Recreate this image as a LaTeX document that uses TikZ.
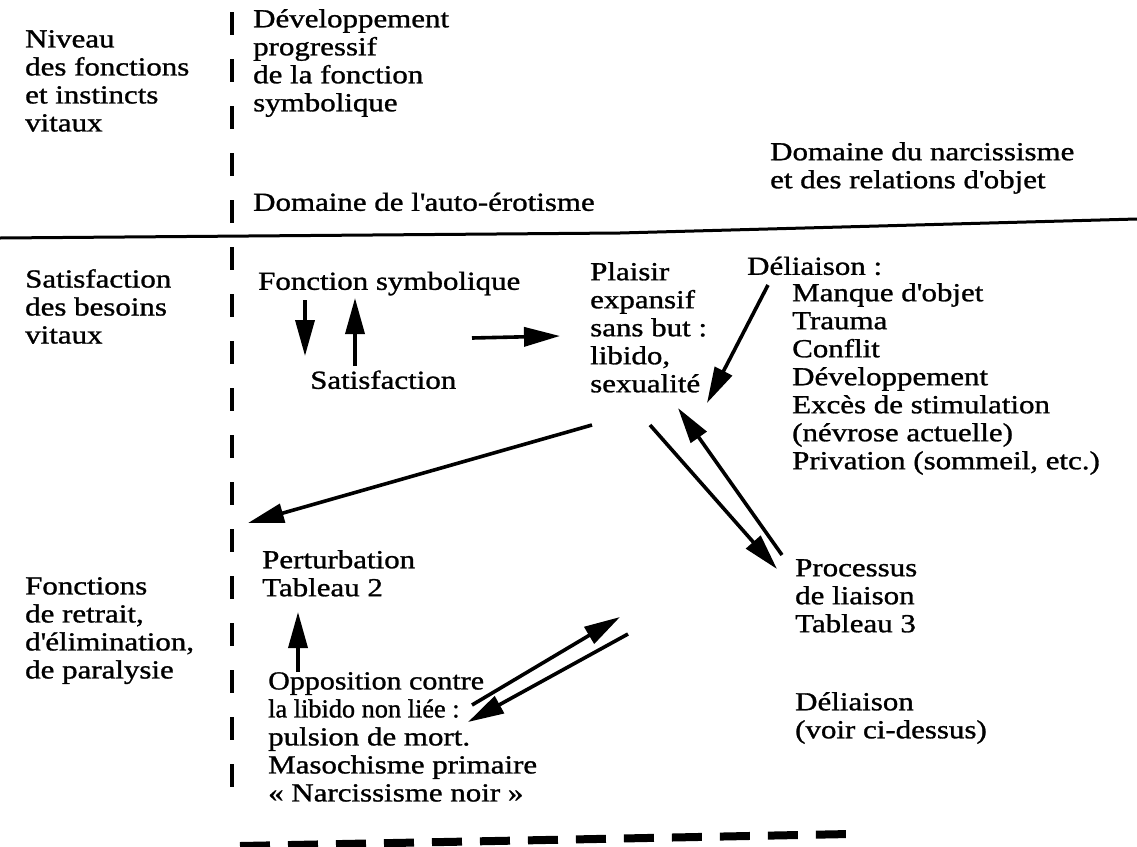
\documentclass[tikz,border=0pt]{standalone}
\usepackage{graphicx}
\usepackage{fontspec}
\setmainfont{Liberation Serif}[FakeStretch=1.19,FakeBold=1.1]
\usetikzlibrary{arrows.meta}
\newcommand{\diagfont}{\fontsize{26}{28}\selectfont}
\newcommand{\ap}{\textquotesingle}
\begin{document}
\begin{tikzpicture}[x=1pt,y=-1pt,
  txt/.style={font=\diagfont, inner sep=0pt, align=left, anchor=north west, execute at begin node=\strut},
  arr/.style={line width=3.6pt, -{Triangle[length=36pt,width=19pt]}},
  vdash/.style={line width=3.5pt, dash pattern=on 23pt off 24pt},
  bdash/.style={line width=8pt, dash pattern=on 30pt off 18pt},
  rule/.style={line width=3pt}]
\useasboundingbox[fill=white] (0,0) rectangle (1137,846);

% separators
\draw[rule] (0,238) -- (620,233) -- (1137,219);
\draw[vdash] (232,12) -- (232,805);
\draw[bdash] (240,846) -- (850,834);

% left column
\node[txt] (niv) at (25,30) {Niveau\\des fonctions\\et instincts\\vitaux};
\node[txt] (sat) at (25,269) {Satisfaction\\des besoins\\vitaux};
\node[txt] (fct) at (25,577) {Fonctions\\de retrait,\\d\ap élimination,\\de paralysie};

% top band
\node[txt] (dev) at (253,9) {Développement\\progressif\\de la fonction\\symbolique};
\node[txt] (auto) at (253,191) {Domaine de l\ap auto-érotisme};
\node[txt] (narc) at (770,142) {Domaine du narcissisme\\et des relations d\ap objet};

% lower band
\node[txt] (fsym) at (258,270) {Fonction symbolique};
\node[txt] (satis) at (310,369) {Satisfaction};
\node[txt] (plai) at (590,262) {Plaisir\\expansif\\sans but :\\libido,\\sexualité};
\node[txt] (delh) at (747,255) {Déliaison :};
\node[txt] (dell) at (792,283) {Manque d\ap objet\\Trauma\\Conflit\\Développement\\Excès de stimulation\\(névrose actuelle)\\Privation (sommeil, etc.)};
\node[txt] (pert) at (262,550) {Perturbation\\Tableau 2};
\node[txt] (proc) at (795,559) {Processus\\de liaison\\Tableau 3};
\node[txt] (opp) at (268,672) {\scalebox{0.97}[1]{Opposition contre}\\\scalebox{0.85}[1]{la libido non liée :}\\pulsion de mort.\\Masochisme primaire\\« Narcissisme noir »};
\node[txt] (deli2) at (795,692) {Déliaison\\(voir ci-dessus)};

% arrow end points
\coordinate (fs1) at (305,300); \coordinate (sa1) at (305,356);
\coordinate (sa2) at (355,366); \coordinate (fs2) at (355,298);
\coordinate (r1) at (472,338);  \coordinate (r2) at (560,336);
\coordinate (d1) at (768,285);  \coordinate (d2) at (707,403);
\coordinate (p1) at (592,425);  \coordinate (pe1) at (248,523);
\coordinate (p2) at (650,425);  \coordinate (pr1) at (777,569);
\coordinate (pr2) at (782,555); \coordinate (p3) at (678,408);
\coordinate (o1) at (298,672);  \coordinate (pe2) at (298,612);
\coordinate (o2) at (472,705);  \coordinate (pr3) at (620,617);
\coordinate (pr4) at (628,634); \coordinate (o3) at (468,722);

\draw[arr] (fs1) -- (sa1);
\draw[arr] (sa2) -- (fs2);
\draw[arr] (r1) -- (r2);
\draw[arr] (d1) -- (d2);
\draw[arr] (p1) -- (pe1);
\draw[arr] (p2) -- (pr1);
\draw[arr] (pr2) -- (p3);
\draw[arr] (o1) -- (pe2);
\draw[arr] (o2) -- (pr3);
\draw[arr] (pr4) -- (o3);
\end{tikzpicture}
\end{document}
